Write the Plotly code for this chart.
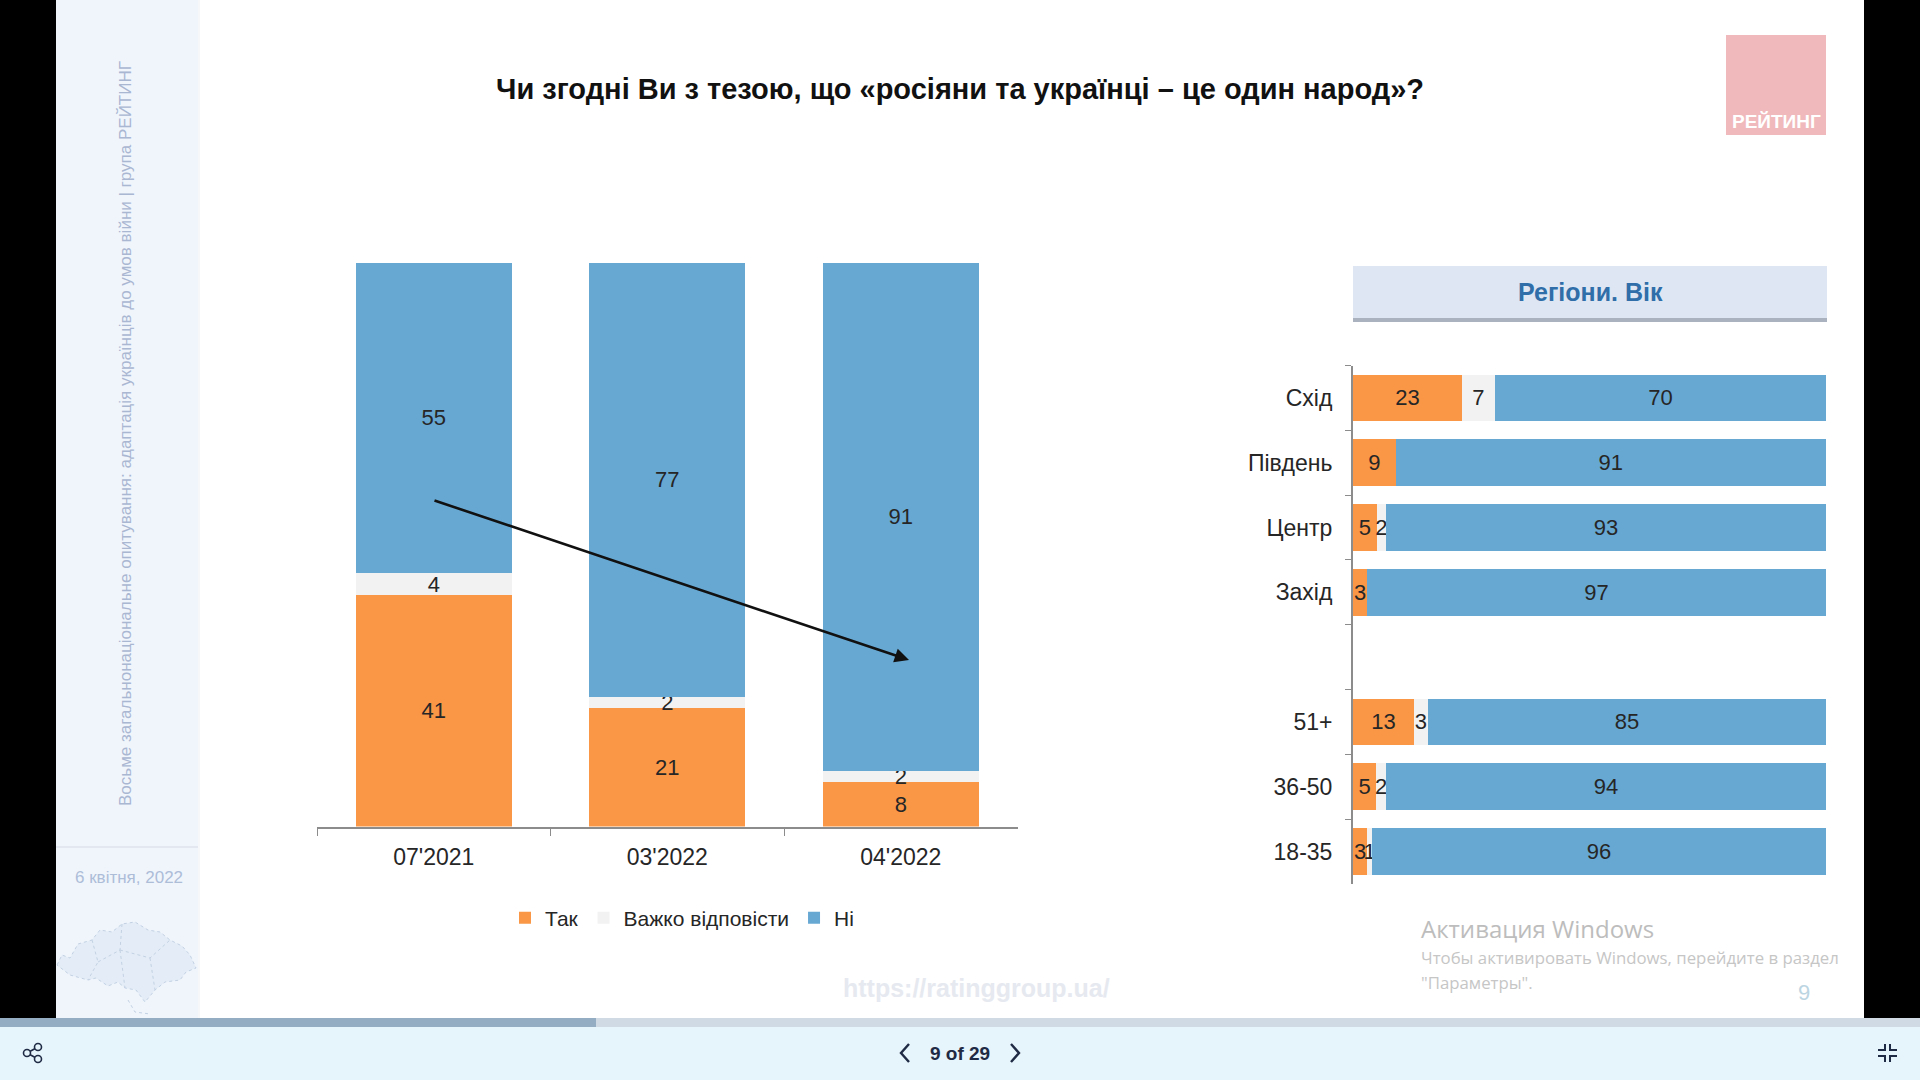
import plotly.graph_objects as go

W, H = 1920, 1080
SANS = "Liberation Sans"
ORANGE, GREY, BLUE = "#f99746", "#f2f2f2", "#67a8d3"

# data
periods = ["07'2021", "03'2022", "04'2022"]
yes_periods = [41, 21, 8]
hard_periods = [4, 2, 2]
no_periods = [55, 77, 91]

groups = ["Схід", "Південь", "Центр", "Захід", " ", "51+", "36-50", "18-35"]
yes_groups = [23, 9, 5, 3, None, 13, 5, 3]
hard_groups = [7, 0, 2, 0, None, 3, 2, 1]
no_groups = [70, 91, 93, 97, None, 85, 94, 96]

series_names = ["Так", "Важко відповісти", "Ні"]


def px_x(x):
    return x / W


def px_y(y):
    return 1 - y / H


def rect(x0, y0, x1, y1, color, layer="below"):
    return dict(type="rect", xref="paper", yref="paper", x0=px_x(x0), x1=px_x(x1),
                y0=px_y(y1), y1=px_y(y0), fillcolor=color, line_width=0, layer=layer)


def path(points, color, width=2, fill=None, closed=False, dash="solid"):
    d = "M" + " L".join(f"{px_x(x):.5f},{px_y(y):.5f}" for x, y in points)
    if closed:
        d += " Z"
    return dict(type="path", xref="paper", yref="paper", path=d, layer="above",
                line=dict(color=color, width=width, dash=dash),
                fillcolor=fill if fill else "rgba(0,0,0,0)")


def circle(cx, cy, r, color):
    return dict(type="circle", xref="paper", yref="paper", x0=px_x(cx - r), x1=px_x(cx + r),
                y0=px_y(cy + r), y1=px_y(cy - r), line=dict(color=color, width=1.6),
                fillcolor="#e6f4fb", layer="above")


def label(x, y, text, size, color, family=SANS, anchor="center", bold=False, angle=0):
    if bold:
        text = f"<b>{text}</b>"
    return dict(xref="paper", yref="paper", x=px_x(x), y=px_y(y), text=text, showarrow=False,
                xanchor=anchor, yanchor="middle", textangle=angle,
                font=dict(size=size, color=color, family=family))


fig = go.Figure()

colors = [ORANGE, GREY, BLUE]
for name, vals, col in zip(series_names, [yes_periods, hard_periods, no_periods], colors):
    fig.add_trace(go.Bar(x=periods, y=vals, name=name, marker=dict(color=col, line_width=0),
                         text=vals, textposition="inside", insidetextanchor="middle",
                         textangle=0, constraintext="none", cliponaxis=False,
                         textfont=dict(size=22, color="#262626", family=SANS),
                         hoverinfo="skip", xaxis="x", yaxis="y"))

for name, vals, col in zip(series_names, [yes_groups, hard_groups, no_groups], colors):
    texts = [str(v) if v else "" for v in vals]
    fig.add_trace(go.Bar(x=vals, y=groups, name=name, orientation="h", showlegend=False,
                         width=0.72, marker=dict(color=col, line_width=0),
                         text=texts, textposition="inside", insidetextanchor="middle",
                         textangle=0, constraintext="none", cliponaxis=False,
                         textfont=dict(size=22, color="#262626", family=SANS),
                         hoverinfo="skip", xaxis="x2", yaxis="y2"))

map_line = "#c3d1e3"
shapes = [
    # slide frame
    rect(0, 0, 56, 1018, "#000000"),
    rect(1864, 0, W, 1018, "#000000"),
    rect(56, 0, 198, 1018, "#f0f5fc"),
    rect(198, 0, 200, 1018, "#f6f7f9"),
    rect(56, 846, 198, 848, "#e3e8f0"),
    # viewer toolbar
    rect(0, 1018, W, 1027, "#cfdae4"),
    rect(0, 1018, 596, 1027, "#94adc2"),
    rect(0, 1027, W, H, "#e6f4fb"),
    # logo
    rect(1726, 35, 1826, 135, "#f0b9bb"),
    # header of right panel
    rect(1353, 316, 1827, 322, "#aab2bf"),
    rect(1353, 266, 1827, 318, "#dee6f3"),
    # map in sidebar
    path([(57, 965), (62, 955), (70, 958), (78, 944), (92, 940), (100, 930), (112, 932),
          (122, 924), (135, 922), (148, 930), (160, 932), (170, 940), (182, 946), (190, 955),
          (196, 968), (186, 972), (180, 980), (165, 982), (155, 990), (150, 996), (145, 1002),
          (136, 990), (125, 988), (118, 982), (108, 986), (96, 978), (88, 980), (70, 975)],
         map_line, 1, "#e4edf7", True, "dot"),
    path([(92, 940), (98, 962), (88, 980)], map_line, 1, None, False, "dot"),
    path([(122, 924), (120, 950), (98, 962)], map_line, 1, None, False, "dot"),
    path([(120, 950), (150, 958), (170, 940)], map_line, 1, None, False, "dot"),
    path([(150, 958), (155, 990)], map_line, 1, None, False, "dot"),
    path([(120, 950), (125, 988)], map_line, 1, None, False, "dot"),
    path([(128, 1000), (135, 1012), (150, 1014)], map_line, 1, None, False, "dot"),
    # share icon
    path([(27, 1053), (38, 1047)], "#1f2a44", 1.6),
    path([(27, 1053), (38, 1059)], "#1f2a44", 1.6),
    circle(27, 1053, 3.5, "#1f2a44"),
    circle(38, 1047, 3.5, "#1f2a44"),
    circle(38, 1059, 3.5, "#1f2a44"),
    # previous / next
    path([(909, 1044), (901, 1053), (909, 1062)], "#1f2a44", 2.4),
    path([(1011, 1044), (1019, 1053), (1011, 1062)], "#1f2a44", 2.4),
    # exit fullscreen
    path([(1885, 1044), (1885, 1050), (1878, 1050)], "#1f2a44", 2),
    path([(1890, 1044), (1890, 1050), (1897, 1050)], "#1f2a44", 2),
    path([(1878, 1056), (1885, 1056), (1885, 1062)], "#1f2a44", 2),
    path([(1897, 1056), (1890, 1056), (1890, 1062)], "#1f2a44", 2),
]

annotations = [
    label(960, 89, "Чи згодні Ви з тезою, що «росіяни та українці – це один народ»?", 29, "#111111", bold=True),
    label(1590, 292, "Регіони. Вік", 25, "#2f6ea8", bold=True),
    label(1776, 121, "РЕЙТИНГ", 19, "#ffffff", bold=True),
    label(125, 434, "Восьме загальнонаціональне опитування: адаптація українців до умов війни | група РЕЙТИНГ",
          17, "#aab7d2", angle=-90),
    label(129, 877, "6 квітня, 2022", 17, "#adbdd8"),
    label(976, 988, "https://ratinggroup.ua/", 25, "#e6e9f0", bold=True),
    label(1419, 928, "Активация Windows", 24, "#bdbdbd", family="Open Sans", anchor="left"),
    label(1419, 957, "Чтобы активировать Windows, перейдите в раздел", 16.8, "#c6c6c6", family="Open Sans", anchor="left"),
    label(1419, 982, "\"Параметры\".", 16.8, "#c6c6c6", family="Open Sans", anchor="left"),
    label(1804, 992, "9", 22, "#bcd5e2"),
    label(960, 1053, "9 of 29", 19, "#1f2a44", bold=True),
    # trend arrow
    dict(xref="paper", yref="paper", x=px_x(909), y=px_y(660), text="", showarrow=True,
         axref="pixel", ayref="pixel", ax=-476, ay=-160, arrowhead=2, arrowsize=1.1,
         arrowwidth=2.6, arrowcolor="#111111"),
]

fig.update_layout(
    width=W, height=H, margin=dict(l=0, r=0, t=0, b=0, pad=0),
    paper_bgcolor="#ffffff", plot_bgcolor="rgba(0,0,0,0)",
    barmode="stack", barnorm="percent", showlegend=True,
    bargap=0.33, shapes=shapes, annotations=annotations,
    legend=dict(orientation="h", x=px_x(505), y=px_y(918), xanchor="left", yanchor="middle",
                font=dict(size=21, color="#262626", family=SANS), itemwidth=30,
                bgcolor="rgba(0,0,0,0)", traceorder="normal"),
    xaxis=dict(domain=[px_x(317), px_x(1017.5)], anchor="y", type="category",
               tickson="boundaries", ticks="outside", ticklen=7, tickcolor="#8c8c8c",
               showline=True, linecolor="#8c8c8c", linewidth=2, showgrid=False,
               tickfont=dict(size=23, color="#262626", family=SANS), ticklabelstandoff=9),
    yaxis=dict(domain=[px_y(826.5), px_y(263)], range=[0, 100], visible=False),
    xaxis2=dict(domain=[px_x(1353), px_x(1826)], range=[0, 100], anchor="y2", visible=False),
    yaxis2=dict(domain=[px_y(884), px_y(365.5)], anchor="x2", type="category",
                autorange="reversed", categoryorder="array", categoryarray=groups,
                tickson="boundaries", ticks="outside", ticklen=6, tickcolor="#8c8c8c",
                showline=True, linecolor="#8c8c8c", linewidth=2, showgrid=False,
                tickfont=dict(size=23, color="#262626", family=SANS), ticklabelstandoff=14),
)

fig.write_html("out.html", config={"displayModeBar": False},
               post_script="document.body.style.margin='0';")
